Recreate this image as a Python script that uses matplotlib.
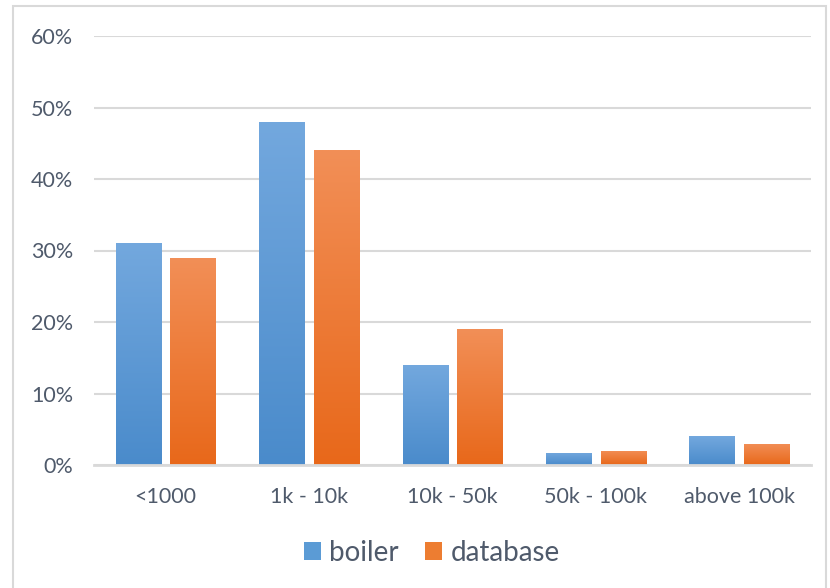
import matplotlib
matplotlib.use("Agg")
import matplotlib.pyplot as plt
import numpy as np
from matplotlib.patches import Patch, Rectangle
from matplotlib.colors import LinearSegmentedColormap

categories = ["<1000", "1k - 10k", "10k - 50k", "50k - 100k", "above 100k"]
boiler = [31, 48, 14, 1.7, 4]
database = [29, 44, 19, 2, 3]
yticks = [0, 10, 20, 30, 40, 50, 60]

plt.rcParams['font.family'] = ['Lato', 'DejaVu Sans']
text_color = '#4f5a6b'

fig = plt.figure(figsize=(8.3, 5.88), dpi=100)
W, H = 830, 588
ax = fig.add_axes([94 / W, (H - 465) / H, (811 - 94) / W, (465 - 36) / H])

# figure border
fig.patches.append(Rectangle((13 / W, -0.01), (826 - 13) / W, (H - 6) / H + 0.01,
                             transform=fig.transFigure, fill=False,
                             edgecolor='#d9d9d9', linewidth=1.5, zorder=0))

x = np.arange(len(categories))
bw = 0.315
off = 0.19
blue_cmap = LinearSegmentedColormap.from_list('b', ['#4a8bcb', '#73a8de'])
orange_cmap = LinearSegmentedColormap.from_list('o', ['#e8681a', '#f28f57'])

def grad_bars(positions, values, cmap):
    bars = ax.bar(positions, values, width=bw, color='none', zorder=3)
    for b in bars:
        x0, y0 = b.get_x(), b.get_y()
        w, h = b.get_width(), b.get_height()
        grad = np.linspace(0, 1, 256).reshape(-1, 1)
        im = ax.imshow(grad, extent=[x0, x0 + w, y0, y0 + h], origin='lower',
                       cmap=cmap, aspect='auto', zorder=3)
        im.set_clip_path(b)
    return bars

grad_bars(x - off, boiler, blue_cmap)
grad_bars(x + off, database, orange_cmap)

ax.set_xlim(-0.5, len(categories) - 0.5)
ax.set_ylim(0, 60)
ax.set_yticks(yticks)
ax.set_yticklabels([f"{v}%" for v in yticks])
ax.set_xticks(x)
ax.set_xticklabels(categories)
ax.yaxis.grid(True, color='#d9d9d9', linewidth=1.5, zorder=0)
ax.set_axisbelow(True)
for s in ['top', 'right', 'left']:
    ax.spines[s].set_visible(False)
ax.spines['bottom'].set_color('#d9d9d9')
ax.spines['bottom'].set_linewidth(2)
ax.spines['bottom'].set_zorder(4)
ax.tick_params(axis='both', length=0, labelsize=15.5, labelcolor=text_color)
ax.tick_params(axis='y', pad=15)
ax.tick_params(axis='x', pad=16)

handles = [Patch(facecolor='#5b9bd5', label='boiler'),
           Patch(facecolor='#ed7d31', label='database')]
fig.legend(handles=handles, loc='center', bbox_to_anchor=(432 / W, (H - 553) / H),
           ncol=2, frameon=False, fontsize=20, labelcolor=text_color,
           handlelength=0.61, handleheight=0.61, handletextpad=0.29, columnspacing=0.95)

fig.savefig('out.png', dpi=100)
